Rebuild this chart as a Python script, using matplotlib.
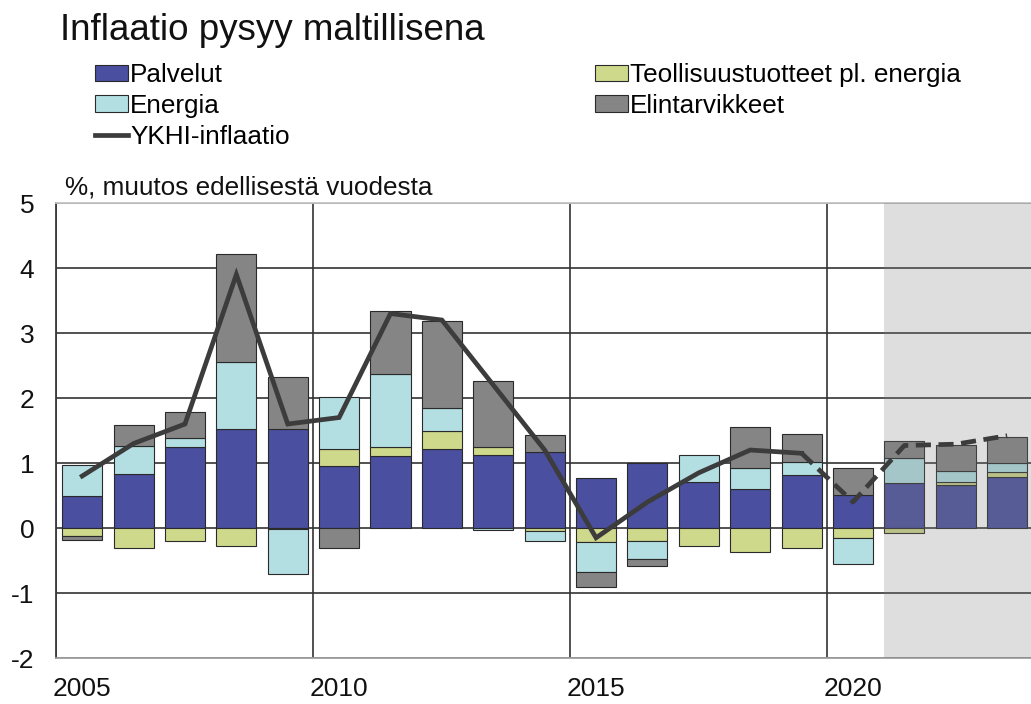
import matplotlib
matplotlib.use("Agg")
import matplotlib.pyplot as plt
import matplotlib.patches as patches
from matplotlib.lines import Line2D
import numpy as np

plt.rcParams['font.family'] = ['Liberation Sans', 'DejaVu Sans']
plt.rcParams['axes.unicode_minus'] = False

# contributions to inflation, %-points
years = list(range(2005, 2024))
palvelut = [0.50, 0.83, 1.24, 1.53, 1.53, 0.95, 1.11, 1.22, 1.12, 1.17,
            0.77, 1.00, 0.71, 0.60, 0.82, 0.51, 0.69, 0.66, 0.78]
teollisuus = [-0.13, -0.30, -0.20, -0.27, -0.02, 0.26, 0.13, 0.27, 0.13, -0.05,
              -0.21, -0.20, -0.27, -0.37, -0.30, -0.15, -0.08, 0.05, 0.08]
energia = [0.47, 0.43, 0.14, 1.03, -0.68, 0.80, 1.13, 0.35, -0.03, -0.15,
           -0.47, -0.27, 0.41, 0.32, 0.20, -0.40, 0.38, 0.17, 0.14]
elintarvikkeet = [-0.06, 0.33, 0.40, 1.65, 0.80, -0.31, 0.97, 1.35, 1.01, 0.26,
                  -0.22, -0.12, 0.0, 0.64, 0.43, 0.42, 0.27, 0.40, 0.40]
ykhi = [0.8, 1.3, 1.6, 3.9, 1.6, 1.7, 3.3, 3.2, 2.2, 1.2,
        -0.15, 0.4, 0.85, 1.2, 1.15, 0.4, 1.27, 1.29, 1.42]

labels = ["Palvelut", "Teollisuustuotteet pl. energia", "Energia", "Elintarvikkeet"]
colors = ["#4a4f9f", "#cfd98c", "#b3dfe3", "#858585"]
series = [palvelut, teollisuus, energia, elintarvikkeet]
forecast_start = 2021.1

fig = plt.figure(figsize=(10.31, 7.04), dpi=100)
ax = fig.add_axes([0.0548, 0.0653, 0.947, 0.6463])

x = np.array(years) + 0.5
pos_base = np.zeros(len(years))
neg_base = np.zeros(len(years))
for vals, col in zip(series, colors):
    v = np.array(vals)
    m = v > 0
    ax.bar(x[m], v[m], bottom=pos_base[m], width=0.78, color=col,
           edgecolor="#2a2a2a", linewidth=0.8, zorder=2)
    pos_base[m] += v[m]
    m = v < 0
    ax.bar(x[m], v[m], bottom=neg_base[m], width=0.78, color=col,
           edgecolor="#2a2a2a", linewidth=0.8, zorder=2)
    neg_base[m] += v[m]

# forecast shading laid over bars
ax.axvspan(forecast_start, 2025, color="#808080", alpha=0.26, lw=0, zorder=3)

line_col = "#3c3c3c"
ax.plot(x[:15], ykhi[:15], color=line_col, lw=3.4, zorder=4,
        solid_joinstyle="miter")
ax.plot(x[14:], ykhi[14:], color=line_col, lw=3.4, zorder=4,
        dashes=(3.2, 1.6))

ax.set_xlim(2005, 2024)
ax.set_ylim(-2, 5)
ax.set_yticks(range(-2, 6))
ax.set_xticks([2005, 2010, 2015, 2020])
ax.set_xticklabels([])
ax.set_xticks([2005.5, 2010.5, 2015.5, 2020.5], minor=True)
ax.set_xticklabels(["2005", "2010", "2015", "2020"], minor=True)
ax.tick_params(axis="both", which="both", length=0, labelsize=19, colors="#111")
ax.tick_params(axis="y", pad=16)
ax.tick_params(axis="x", which="minor", pad=14)
ax.grid(True, which="major", color="#333333", lw=1.2)
ax.set_axisbelow(True)

ax.spines["left"].set_color("#3a3a3a")
ax.spines["top"].set_color("#c4c4c4")
ax.spines["bottom"].set_color("#a0a0a0")
ax.spines["right"].set_visible(False)
for s in ["left", "top", "bottom"]:
    ax.spines[s].set_linewidth(1.3)

fig.text(60 / 1031, 1 - 30 / 704, "Inflaatio pysyy maltillisena",
         fontsize=26.5, va="center", ha="left", color="#111")
fig.text(65 / 1031, 1 - 188 / 704, "%, muutos edellisestä vuodesta",
         fontsize=18.8, va="center", ha="left", color="#111")

def patch(c):
    return patches.Patch(facecolor=c, edgecolor="#2a2a2a", linewidth=0.8)

h1 = [patch(colors[0]), patch(colors[2]), Line2D([], [], color=line_col, lw=3.4)]
l1 = ["Palvelut", "Energia", "YKHI-inflaatio"]
h2 = [patch(colors[1]), patch(colors[3])]
l2 = ["Teollisuustuotteet pl. energia", "Elintarvikkeet"]
kw = dict(loc="upper left", frameon=False, fontsize=18.8, handlelength=1.25,
          handleheight=0.6, handletextpad=0.1, labelspacing=0.26,
          borderaxespad=0, borderpad=0)
fig.legend(h1, l1, bbox_to_anchor=(95 / 1031, 1 - 63 / 704), **kw)
fig.legend(h2, l2, bbox_to_anchor=(595 / 1031, 1 - 63 / 704), **kw)

fig.savefig("out.png", dpi=100)
